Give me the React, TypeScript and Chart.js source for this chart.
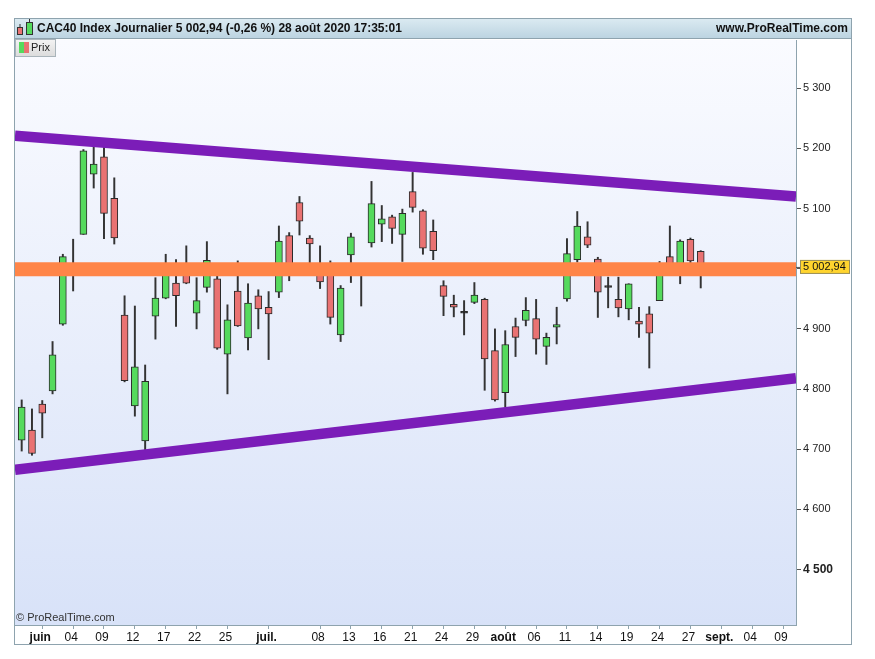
import React, { useEffect, useRef } from 'react';
import { Chart, registerables } from 'chart.js';
Chart.register(...registerables);

// ---- data ----
const opens = [4715, 4732, 4775, 4797, 4908, 5008, 5057, 5157, 5186, 5117, 4923, 4772, 4714, 4921, 4951, 4976, 5003, 4926, 4969, 4983, 4858, 4963, 4885, 4955, 4936, 4961, 5055, 5110, 5051, 5008, 4998, 4890, 5023, 5003, 5043, 5074, 5086, 5057, 5128, 5096, 5062, 4972, 4941, 4928, 4944, 4949, 4864, 4794, 4904, 4914, 4917, 4871, 4903, 4950, 5015, 5053, 5016, 4971, 4949, 4933, 4913, 4925, 4947, 5020, 5003, 5049, 5029];
const highs = [4782, 4767, 4781, 4879, 5024, 5049, 5198, 5204, 5204, 5151, 4955, 4938, 4840, 4985, 5024, 5015, 5038, 4985, 5045, 5005, 4940, 5013, 4975, 4965, 4962, 5071, 5060, 5120, 5055, 5038, 5013, 4972, 5059, 5008, 5145, 5105, 5089, 5099, 5160, 5098, 5081, 4980, 4956, 4947, 4977, 4951, 4900, 4897, 4918, 4952, 4949, 4893, 4936, 5050, 5095, 5078, 5019, 4986, 4986, 4975, 4936, 4937, 5012, 5071, 5048, 5051, 5030];
const lows = [4697, 4690, 4719, 4792, 4906, 4963, 5057, 5134, 5050, 5041, 4812, 4755, 4697, 4883, 4950, 4904, 4975, 4900, 4961, 4866, 4792, 4904, 4865, 4900, 4849, 4952, 4980, 5056, 5005, 4967, 4908, 4879, 4977, 4938, 5036, 5045, 5042, 5012, 5094, 5024, 5015, 4922, 4920, 4890, 4942, 4798, 4780, 4770, 4854, 4905, 4858, 4841, 4875, 4946, 5011, 5035, 4919, 4935, 4920, 4915, 4886, 4835, 4947, 4995, 4975, 5005, 4968];
const closes = [4770, 4693, 4760, 4857, 5020, 4996, 5196, 5174, 5092, 5051, 4814, 4837, 4813, 4951, 4998, 4955, 4976, 4947, 5014, 4868, 4915, 4905, 4943, 4933, 4925, 5046, 5007, 5079, 5041, 4978, 4919, 4968, 5053, 4993, 5108, 5083, 5067, 5092, 5102, 5034, 5030, 4954, 4936, 4927, 4956, 4850, 4782, 4874, 4886, 4931, 4883, 4886, 4907, 5025, 5071, 5039, 4961, 4970, 4935, 4975, 4908, 4893, 5007, 5002, 5046, 5013, 5003];

const tickDates = ['2020-06-01', '2020-06-04', '2020-06-09', '2020-06-12', '2020-06-17', '2020-06-22', '2020-06-25', '2020-07-01', '2020-07-08', '2020-07-13', '2020-07-16', '2020-07-21', '2020-07-24', '2020-07-29', '2020-08-03', '2020-08-06', '2020-08-11', '2020-08-14', '2020-08-19', '2020-08-24', '2020-08-27', '2020-09-01', '2020-09-04', '2020-09-09'];
const tickLabels = ['juin', '04', '09', '12', '17', '22', '25', 'juil.', '08', '13', '16', '21', '24', '29', 'août', '06', '11', '14', '19', '24', '27', 'sept.', '04', '09'];
const monthLabels = ['juin', 'juil.', 'août', 'sept.'];
const yTicks = [4500, 4600, 4700, 4800, 4900, 5000, 5100, 5200, 5300];

const lastPrice = 5002.94;
const bandLevel = 4999;
const upperTrend = [5221, 5120];
const lowerTrend = [4666, 4818];

const firstDay = '2020-05-28';
const lastDay = '2020-09-10';

// trading days (weekdays) calendar
function weekdays(from: string, to: string): string[] {
  const out: string[] = [];
  const d = new Date(from + 'T00:00:00Z');
  const end = new Date(to + 'T00:00:00Z');
  while (d <= end) {
    const wd = d.getUTCDay();
    if (wd !== 0 && wd !== 6) out.push(d.toISOString().slice(0, 10));
    d.setUTCDate(d.getUTCDate() + 1);
  }
  return out;
}
const days = weekdays(firstDay, lastDay);

const X_MIN = -0.65;
const X_MAX = 75.26;
const FONT = '"Liberation Sans", Arial, sans-serif';
const GREEN = '#55da5d';
const RED = '#e97272';

function fmt(v: number) {
  const th = Math.floor(v / 1000);
  const rest = String(Math.round(v % 1000)).padStart(3, '0');
  return th + ' ' + rest;
}

export default function App() {
  const ref = useRef<HTMLCanvasElement | null>(null);
  useEffect(() => {
    const canvas = ref.current!;
    const tickIdx = tickDates.map((d) => days.indexOf(d));

    const wickData = opens.map((_, i) => ({ x: i, y: [lows[i], highs[i]] }));
    const bodyData = opens.map((o, i) => {
      const c = closes[i];
      if (Math.abs(o - c) < 3) {
        const m = (o + c) / 2;
        return { x: i, y: [m - 1.5, m + 1.5] };
      }
      return { x: i, y: [o, c] };
    });
    const bodyColors = opens.map((o, i) =>
      Math.abs(o - closes[i]) < 3 ? '#222' : closes[i] >= o ? GREEN : RED
    );

    const bgPlugin = {
      id: 'bg',
      beforeDraw(chart: any) {
        const { ctx, chartArea: a } = chart;
        ctx.save();
        ctx.fillStyle = '#ffffff';
        ctx.fillRect(0, 0, chart.width, chart.height);
        const g = ctx.createLinearGradient(0, a.top, 0, a.bottom);
        g.addColorStop(0, '#fafbff');
        g.addColorStop(1, '#d8e2f8');
        ctx.fillStyle = g;
        ctx.fillRect(a.left, a.top, a.right - a.left, a.bottom - a.top);
        // header
        const hg = ctx.createLinearGradient(0, 18, 0, 38);
        hg.addColorStop(0, '#dcebf2');
        hg.addColorStop(1, '#bcd4e1');
        ctx.fillStyle = hg;
        ctx.fillRect(14, 18, 838, 20);
        ctx.strokeStyle = '#8ea3ae';
        ctx.lineWidth = 1;
        ctx.beginPath();
        ctx.moveTo(14, 38.5);
        ctx.lineTo(852, 38.5);
        ctx.stroke();
        ctx.strokeRect(14.5, 18.5, 837, 626);
        ctx.restore();
      },
      afterDraw(chart: any) {
        const { ctx, chartArea: a } = chart;
        const ys = chart.scales.y;
        ctx.save();
        // header icon
        ctx.strokeStyle = '#333';
        ctx.lineWidth = 1;
        ctx.fillStyle = RED;
        ctx.fillRect(17.5, 27.5, 5, 7);
        ctx.strokeRect(17.5, 27.5, 5, 7);
        ctx.beginPath(); ctx.moveTo(20, 24); ctx.lineTo(20, 27.5); ctx.stroke();
        ctx.fillStyle = GREEN;
        ctx.fillRect(26.5, 22.5, 6, 12);
        ctx.strokeRect(26.5, 22.5, 6, 12);
        ctx.beginPath(); ctx.moveTo(29.5, 19); ctx.lineTo(29.5, 22.5); ctx.stroke();
        // header text
        ctx.fillStyle = '#111';
        ctx.font = 'bold 12px ' + FONT;
        ctx.textBaseline = 'middle';
        ctx.textAlign = 'left';
        ctx.fillText('CAC40 Index Journalier 5 002,94 (-0,26 %) 28 août 2020 17:35:01', 37, 28.5);
        ctx.textAlign = 'right';
        ctx.fillText('www.ProRealTime.com', 848, 28.5);
        // legend box
        const lg = ctx.createLinearGradient(0, 39, 0, 56);
        lg.addColorStop(0, '#f4f4f4');
        lg.addColorStop(1, '#dcdcdc');
        ctx.fillStyle = lg;
        ctx.fillRect(15, 39, 40, 17);
        ctx.strokeStyle = '#a9b4ba';
        ctx.strokeRect(15.5, 39.5, 40, 17);
        ctx.fillStyle = GREEN;
        ctx.fillRect(19, 42, 5, 11);
        ctx.fillStyle = RED;
        ctx.fillRect(24, 42, 5, 11);
        ctx.fillStyle = '#222';
        ctx.font = '11px ' + FONT;
        ctx.textAlign = 'left';
        ctx.fillText('Prix', 31, 48);
        // copyright
        ctx.fillStyle = '#333';
        ctx.font = '11px ' + FONT;
        ctx.fillText('© ProRealTime.com', 16, 618);
        // price tag
        const py = ys.getPixelForValue(lastPrice);
        ctx.strokeStyle = '#555';
        ctx.beginPath(); ctx.moveTo(a.right, py + 0.5); ctx.lineTo(a.right + 4, py + 0.5); ctx.stroke();
        ctx.fillStyle = '#ffd42e';
        ctx.fillRect(800, py - 7, 50, 14);
        ctx.strokeStyle = '#9a8f5a';
        ctx.strokeRect(800.5, py - 6.5, 49, 13);
        ctx.fillStyle = '#111';
        ctx.font = '11px ' + FONT;
        ctx.textAlign = 'left';
        ctx.fillText('5 002,94', 803, py + 0.5);
        ctx.restore();
      },
    };

    const chart = new Chart(canvas, {
      type: 'bar',
      data: {
        datasets: [
          {
            type: 'line',
            data: [{ x: X_MIN, y: bandLevel }, { x: X_MAX, y: bandLevel }],
            borderColor: '#ff8548',
            borderWidth: 14,
            pointRadius: 0,
            borderCapStyle: 'butt',
            order: 0,
          } as any,
          {
            type: 'line',
            data: [{ x: X_MIN, y: upperTrend[0] }, { x: X_MAX, y: upperTrend[1] }],
            borderColor: '#7b1db8',
            borderWidth: 10.5,
            pointRadius: 0,
            order: 0,
          } as any,
          {
            type: 'line',
            data: [{ x: X_MIN, y: lowerTrend[0] }, { x: X_MAX, y: lowerTrend[1] }],
            borderColor: '#7b1db8',
            borderWidth: 10.5,
            pointRadius: 0,
            order: 0,
          } as any,
          {
            type: 'bar',
            data: bodyData as any,
            backgroundColor: bodyColors,
            borderColor: '#2a2a2a',
            borderWidth: 1,
            borderSkipped: false,
            barThickness: 7,
            grouped: false,
            order: 1,
          } as any,
          {
            type: 'bar',
            data: wickData as any,
            backgroundColor: '#333',
            borderWidth: 0,
            barThickness: 1.3,
            grouped: false,
            order: 2,
          } as any,
        ],
      },
      options: {
        responsive: false,
        animation: false,
        devicePixelRatio: 1,
        layout: { padding: { left: 15, top: 40, right: 23, bottom: 14 } },
        plugins: { legend: { display: false }, tooltip: { enabled: false } },
        scales: {
          x: {
            type: 'linear',
            min: X_MIN,
            max: X_MAX,
            offset: false,
            afterBuildTicks: (s: any) => {
              s.ticks = tickIdx.map((v) => ({ value: v }));
            },
            afterFit: (s: any) => {
              s.height = 20;
            },
            ticks: {
              autoSkip: false,
              maxRotation: 0,
              padding: 1,
              labelOffset: -2,
              color: '#111',
              callback: (v: any) => {
                const k = tickIdx.indexOf(Number(v));
                return k >= 0 ? tickLabels[k] : '';
              },
              font: (ctx: any) => {
                const k = tickIdx.indexOf(ctx.tick ? ctx.tick.value : -99);
                const bold = k >= 0 && monthLabels.includes(tickLabels[k]);
                return { family: FONT, size: 12, weight: bold ? 'bold' : 'normal' } as any;
              },
            },
            grid: { drawOnChartArea: false, drawTicks: true, tickLength: 4, color: '#8ea3ae', offset: false },
            border: { color: '#8ea3ae' },
          } as any,
          y: {
            position: 'right',
            min: 4408,
            max: 5380,
            beginAtZero: false,
            afterBuildTicks: (s: any) => {
              s.ticks = yTicks.map((v) => ({ value: v }));
            },
            afterFit: (s: any) => {
              s.width = 56;
            },
            ticks: {
              padding: 2,
              color: '#222',
              callback: (v: any) => fmt(Number(v)),
              font: (ctx: any) => {
                const b = ctx.tick && ctx.tick.value === 4500;
                return { family: FONT, size: b ? 12 : 11, weight: b ? 'bold' : 'normal' } as any;
              },
            },
            grid: { drawOnChartArea: false, drawTicks: true, tickLength: 5, color: '#555' },
            border: { color: '#8ea3ae' },
          } as any,
        },
      },
      plugins: [bgPlugin],
    });
    return () => chart.destroy();
  }, []);

  return (
    <div style={{ position: 'absolute', left: 0, top: 0, width: 875, height: 659 }}>
      <canvas ref={ref} width={875} height={659} style={{ display: 'block', width: 875, height: 659 }} />
    </div>
  );
}
